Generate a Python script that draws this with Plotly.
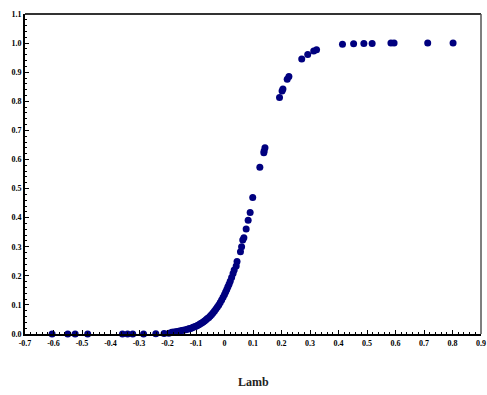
import plotly.graph_objects as go

# Lamb values and corresponding fitted probabilities
lamb = [
    -0.605, -0.55, -0.524, -0.48, -0.358, -0.34, -0.322, -0.284, -0.241, -0.212, -0.195,
    -0.185, -0.178, -0.17, -0.165, -0.158, -0.15, -0.145, -0.137, -0.13, -0.125,
    -0.12, -0.115, -0.11, -0.105, -0.1, -0.095, -0.09, -0.085, -0.08, -0.075,
    -0.07, -0.065, -0.06, -0.055, -0.05, -0.045, -0.04, -0.035, -0.03, -0.025,
    -0.02, -0.015, -0.01, -0.005, 0.0, 0.004, 0.008, 0.012, 0.016, 0.02,
    0.025, 0.03, 0.034, 0.041, 0.044, 0.056, 0.06, 0.064, 0.068, 0.076,
    0.083, 0.09, 0.099, 0.124, 0.138, 0.139, 0.142, 0.193, 0.202, 0.205,
    0.22, 0.226, 0.271, 0.292, 0.313, 0.323, 0.414, 0.453, 0.489, 0.518,
    0.584, 0.595, 0.713, 0.802,
]
prob = [
    0.0, 0.0, 0.0, 0.0, 0.0, 0.0, 0.0, 0.0, 0.001, 0.002, 0.003,
    0.006, 0.007, 0.008, 0.009, 0.010, 0.012, 0.013, 0.015, 0.016, 0.018,
    0.019, 0.021, 0.023, 0.025, 0.027, 0.029, 0.032, 0.035, 0.038, 0.041,
    0.045, 0.049, 0.053, 0.057, 0.062, 0.067, 0.073, 0.079, 0.086, 0.093,
    0.100, 0.108, 0.117, 0.126, 0.136, 0.144, 0.153, 0.162, 0.171, 0.181,
    0.194, 0.208, 0.220, 0.234, 0.249, 0.283, 0.300, 0.323, 0.331, 0.361,
    0.391, 0.418, 0.469, 0.573, 0.623, 0.629, 0.640, 0.813, 0.835, 0.842,
    0.876, 0.885, 0.945, 0.961, 0.973, 0.977, 0.996, 0.998, 0.999, 0.999,
    1.0, 1.0, 1.0, 1.0,
]

x_ticks = [-0.7, -0.6, -0.5, -0.4, -0.3, -0.2, -0.1, 0, 0.1, 0.2, 0.3, 0.4, 0.5, 0.6, 0.7, 0.8, 0.9]
x_labels = ["-0.7", "-0.6", "-0.5", "-0.4", "-0.3", "-0.2", "-0.1", "0", "0.1", "0.2",
            "0.3", "0.4", "0.5", "0.6", "0.7", "0.8", "0.9"]
y_ticks = [0.0, 0.1, 0.2, 0.3, 0.4, 0.5, 0.6, 0.7, 0.8, 0.9, 1.0, 1.1]
y_labels = ["0.0", "0.1", "0.2", "0.3", "0.4", "0.5", "0.6", "0.7", "0.8", "0.9", "1.0", "1.1"]

tick_font = dict(family="Liberation Serif", size=8, color="#000000")

fig = go.Figure(
    go.Scatter(
        x=lamb, y=prob, mode="markers",
        marker=dict(color="#00007f", size=7, line=dict(width=0)),
        cliponaxis=False,
    )
)

axis_common = dict(
    showgrid=False, zeroline=False, automargin=False,
    showline=True, linecolor="black", linewidth=2,
    ticks="inside", ticklen=4, tickwidth=1, tickcolor="black",
    tickfont=tick_font,
    minor=dict(ticks="inside", ticklen=2, tickwidth=1, tickcolor="black", dtick=0.02),
)

fig.update_xaxes(
    range=[-0.7, 0.9], tickmode="array", tickvals=x_ticks,
    ticktext=[f"<b>{t}</b>" for t in x_labels],
    **axis_common,
)
fig.update_yaxes(
    range=[0, 1.1], tickmode="array", tickvals=y_ticks,
    ticktext=[f"<b>{t}</b>" for t in y_labels],
    **axis_common,
)

# frame on the top and right edges
fig.add_shape(type="line", xref="paper", yref="paper", x0=0, x1=1, y0=1, y1=1,
              line=dict(color="#333333", width=2))
fig.add_shape(type="line", xref="paper", yref="paper", x0=1, x1=1, y0=0, y1=1,
              line=dict(color="#555555", width=1.5))

fig.add_annotation(
    text="<b>Lamb</b>", xref="paper", yref="paper", x=0.5, y=0,
    xanchor="center", yanchor="middle", yshift=-48, showarrow=False,
    font=dict(family="Liberation Serif", size=12, color="#222222"),
)

fig.update_layout(
    width=487, height=395,
    margin=dict(l=25, r=6, t=14, b=61),
    paper_bgcolor="white", plot_bgcolor="white",
    showlegend=False,
    font=dict(family="Liberation Serif", size=8, color="#000000"),
)

fig.write_html("out.html")
